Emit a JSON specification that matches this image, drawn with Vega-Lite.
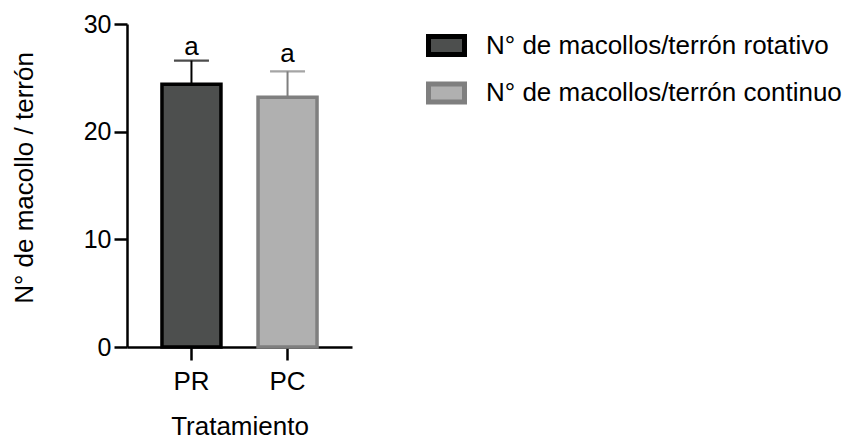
{
  "$schema": "https://vega.github.io/schema/vega-lite/v6.json",
  "width": 225,
  "height": 323,
  "autosize": {"type": "none"},
  "padding": {"left": 127, "top": 24, "right": 507, "bottom": 92},
  "background": "white",
  "config": {
    "view": {"stroke": null},
    "font": "Liberation Sans",
    "axis": {
      "domainColor": "#000000",
      "domainWidth": 2.5,
      "tickColor": "#000000",
      "tickWidth": 2.5,
      "tickSize": 13,
      "labelColor": "#000000",
      "labelFont": "Liberation Sans",
      "titleFont": "Liberation Sans",
      "titleColor": "#000000",
      "titleFontWeight": "normal",
      "titleFontSize": 26,
      "grid": false,
      "zindex": 1
    },
    "legend": {
      "orient": "none",
      "legendX": 299,
      "legendY": 1,
      "padding": 0,
      "labelFont": "Liberation Sans",
      "labelFontSize": 26,
      "labelColor": "#000000",
      "labelOffset": 19,
      "labelLimit": 500,
      "rowPadding": 7.5,
      "symbolType": "M-1,-0.5H1V0.5H-1Z",
      "symbolSize": 1296,
      "symbolStrokeWidth": 5,
      "symbolOpacity": 1,
      "title": null
    }
  },
  "data": {
    "values": [
      {"tratamiento": "PR", "serie": "N° de macollos/terrón rotativo", "media": 24.4, "sup": 26.6, "letra": "a", "pos_letra": 27.1},
      {"tratamiento": "PC", "serie": "N° de macollos/terrón continuo", "media": 23.2, "sup": 25.6, "letra": "a", "pos_letra": 26.5}
    ]
  },
  "encoding": {
    "x": {
      "field": "tratamiento",
      "type": "nominal",
      "sort": ["PR", "PC"],
      "scale": {"paddingInner": 0.386, "paddingOuter": 0.364},
      "axis": {
        "title": "Tratamiento",
        "labelAngle": 0,
        "labelFontSize": 26,
        "labelPadding": 8,
        "titleBaseline": "alphabetic",
        "titleY": 87
      }
    }
  },
  "layer": [
    {
      "mark": {"type": "bar", "width": {"band": 1}, "strokeWidth": 3.5},
      "encoding": {
        "y": {
          "field": "media",
          "type": "quantitative",
          "scale": {"domain": [0, 30], "nice": false},
          "axis": {
            "title": "N° de macollo / terrón",
            "values": [0, 10, 20, 30],
            "labelFontSize": 25,
            "labelPadding": 3,
            "titleX": -103,
            "titleY": 153.5,
            "titleBaseline": "middle"
          }
        },
        "fill": {
          "field": "serie",
          "type": "nominal",
          "scale": {"domain": ["N° de macollos/terrón rotativo", "N° de macollos/terrón continuo"], "range": ["#4d4f4e", "#b0b0b0"]}
        },
        "stroke": {
          "field": "serie",
          "type": "nominal",
          "scale": {"domain": ["N° de macollos/terrón rotativo", "N° de macollos/terrón continuo"], "range": ["#000000", "#7f7f7f"]}
        }
      }
    },
    {
      "mark": {"type": "rule", "strokeWidth": 2},
      "encoding": {
        "y": {"field": "media", "type": "quantitative"},
        "y2": {"field": "sup"},
        "stroke": {"field": "serie", "type": "nominal"}
      }
    },
    {
      "mark": {"type": "tick", "filled": false, "size": 33, "thickness": 0.3, "strokeWidth": 2, "orient": "horizontal"},
      "encoding": {
        "y": {"field": "sup", "type": "quantitative"},
        "stroke": {"field": "serie", "type": "nominal"}
      }
    },
    {
      "mark": {"type": "text", "fontSize": 26, "baseline": "alphabetic", "color": "#000000", "font": "Liberation Sans"},
      "encoding": {
        "y": {"field": "pos_letra", "type": "quantitative"},
        "text": {"field": "letra", "type": "nominal"}
      }
    }
  ]
}
